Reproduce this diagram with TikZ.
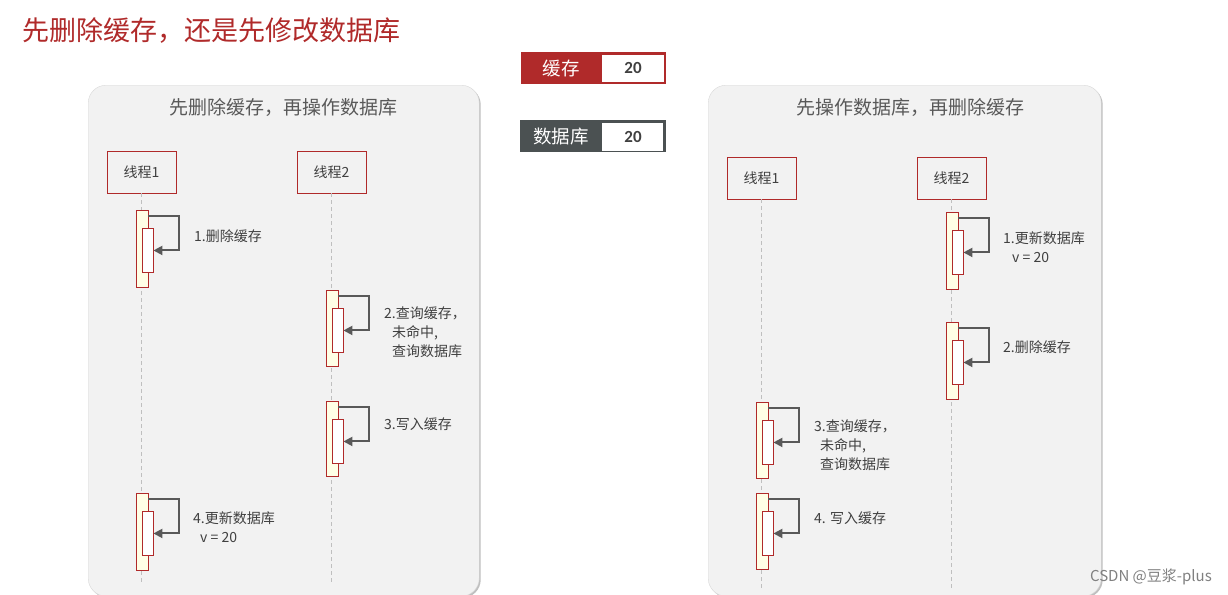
\documentclass[tikz,border=0pt]{standalone}
\usepackage{fontspec}
\setmainfont{Noto Sans CJK SC}
\newfontfamily\numfont{Carlito}
\usetikzlibrary{arrows.meta,shadows}
\definecolor{myred}{HTML}{B02A2A}
\definecolor{panelbg}{HTML}{F2F2F2}
\definecolor{panelline}{HTML}{D9D9D9}
\definecolor{legdark}{HTML}{4B5152}
\definecolor{actfill}{HTML}{FFFFE6}
\definecolor{arrcol}{HTML}{595959}
\definecolor{txt}{HTML}{404040}
\definecolor{lifecol}{HTML}{BFBFBF}
\newcommand\myact[4]{%
  \node[actout, minimum height=#4pt] (#1o) at (#2,#3) {};
  \node[actin] (#1i) at ({#2+6},{#3+18}) {};
  \draw[arr] ([yshift=-6pt]#1o.north east) -- ++(31,0) |- (#1i.east);
}
\begin{document}
\begin{tikzpicture}[x=1pt,y=-1pt,
  panel/.style={draw=panelline, fill=panelbg, rounded corners=18pt, anchor=north west,
    drop shadow={shadow xshift=1.5pt, shadow yshift=-1.5pt, fill=black, opacity=0.25}},
  ptitle/.style={text=arrcol, font=\fontsize{19}{22}\selectfont},
  thread/.style={draw=myred, line width=0.9pt, fill=panelbg, minimum width=69pt, minimum height=42pt,
    inner sep=0pt, text=txt, font=\fontsize{14}{16}\selectfont},
  life/.style={draw=lifecol, dashed, dash pattern=on 4pt off 3pt, line width=0.9pt},
  actout/.style={draw=myred, fill=actfill, line width=0.9pt, anchor=north west, minimum width=12pt, inner sep=0pt},
  actin/.style={draw=myred, fill=white, line width=0.9pt, anchor=north west, minimum width=11pt, minimum height=44pt, inner sep=0pt},
  arr/.style={draw=arrcol, line width=2pt, -{Triangle[length=9pt,width=9pt]}},
  lbl/.style={anchor=west, text=txt, align=left, inner sep=0pt, font=\fontsize{14}{19}\selectfont},
  legtxt/.style={text=white, font=\fontsize{18.5}{20}\selectfont},
  legnum/.style={text=txt, font=\numfont\bfseries\fontsize{17}{20}\selectfont}
]
\useasboundingbox (0,0) rectangle (1228,594);
\fill[white] (0,0) rectangle (1228,594);

% main title
\node[anchor=west, text=myred, inner sep=0pt, font=\fontsize{27}{30}\selectfont] (title) at (22,31) {先删除缓存，还是先修改数据库};

% panels
\node[panel, minimum width=391pt, minimum height=511pt] (pl) at (88,85) {};
\node[panel, minimum width=393pt, minimum height=511pt] (pr) at (708,85) {};
\node[ptitle] (plt) at (283,107) {先删除缓存，再操作数据库};
\node[ptitle] (prt) at (910,107) {先操作数据库，再删除缓存};

% legend
\node[fill=myred, anchor=north west, minimum width=145pt, minimum height=32pt, inner sep=0pt] (cache) at (521,52) {};
\node[fill=white, anchor=north west, minimum width=62pt, minimum height=27pt, inner sep=0pt] (cachev) at (602,55) {};
\node[legtxt] (cachet) at (561,68) {缓存};
\node[legnum] (cachen) at (633,68) {20};
\node[fill=legdark, anchor=north west, minimum width=146pt, minimum height=32pt, inner sep=0pt] (db) at (520,120) {};
\node[fill=white, anchor=north west, minimum width=61pt, minimum height=28pt, inner sep=0pt] (dbv) at (602,123) {};
\node[legtxt] (dbt) at (561,137) {数据库};
\node[legnum] (dbn) at (633,137) {20};

% threads left
\node[thread] (t1) at (141.5,172) {线程1};
\node[thread] (t2) at (331.5,172) {线程2};
% threads right
\node[thread] (t3) at (761.5,178) {线程1};
\node[thread] (t4) at (951.5,178) {线程2};

\coordinate (t1e) at (141.5,584);
\coordinate (t2e) at (331.5,584);
\coordinate (t3e) at (761.5,590);
\coordinate (t4e) at (951.5,590);
\draw[life] (t1.south) -- (t1e);
\draw[life] (t2.south) -- (t2e);
\draw[life] (t3.south) -- (t3e);
\draw[life] (t4.south) -- (t4e);

% left activations
\myact{la}{135.5}{210}{77}
\myact{lb}{325.5}{290}{76}
\myact{lc}{325.5}{401}{75}
\myact{ld}{135.5}{493}{77}
% right activations
\myact{ra}{945.5}{212}{77}
\myact{rb}{945.5}{322}{77}
\myact{rc}{755.5}{402}{76}
\myact{rd}{755.5}{493}{76}

% labels left
\node[lbl] (l1) at (194,236) {1.删除缓存};
\node[lbl] (l2) at (384,332) {2.查询缓存，\\\hspace*{8pt}未命中,\\\hspace*{8pt}查询数据库};
\node[lbl] (l3) at (384,424) {3.写入缓存};
\node[lbl] (l4) at (193,527.5) {4.更新数据库\\\hspace*{7pt}v = 20};
% labels right
\node[lbl] (r1) at (1003,247.5) {1.更新数据库\\\hspace*{9pt}v = 20};
\node[lbl] (r2) at (1003,347) {2.删除缓存};
\node[lbl] (r3) at (814,445.5) {3.查询缓存，\\\hspace*{6pt}未命中,\\\hspace*{6pt}查询数据库};
\node[lbl] (r4) at (814,518) {4. 写入缓存};

% watermark
\node[anchor=east, text=black!50, inner sep=0pt, font=\fontsize{15}{17}\selectfont] (wm) at (1212,577) {CSDN @豆浆-plus};
\end{tikzpicture}
\end{document}
